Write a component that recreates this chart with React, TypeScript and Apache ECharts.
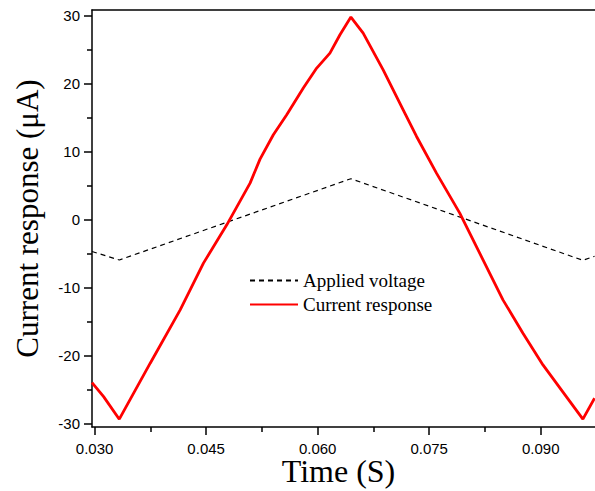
import React, { useEffect, useRef } from "react";
import * as echarts from "echarts";

const timeCurrent = [0.02965, 0.03121, 0.03332, 0.03748, 0.04151, 0.04464, 0.04778, 0.05091, 0.05225, 0.05404, 0.05584, 0.05807, 0.05987, 0.06165, 0.063, 0.06447, 0.06612, 0.06881, 0.0715, 0.0733, 0.07598, 0.07911, 0.08224, 0.08492, 0.08761, 0.0903, 0.09344, 0.09567, 0.09724];
const currentValues = [-23.97, -26.03, -29.35, -21.12, -13.28, -6.41, -0.78, 5.35, 8.88, 12.46, 15.4, 19.32, 22.26, 24.47, 27.16, 29.76, 27.41, 22.01, 16.13, 12.21, 6.82, 0.94, -5.93, -11.81, -16.71, -21.37, -26.03, -29.35, -26.26];

const timeVoltage = [0.02965, 0.03332, 0.06447, 0.09567, 0.09724];
const voltageValues = [-4.7, -5.95, 6.0, -6.0, -5.4];

const xMajorTicks = [0.03, 0.045, 0.06, 0.075, 0.09];
const xMinorTicks = [0.0375, 0.0525, 0.0675, 0.0825];
const yMajorTicks = [-30, -20, -10, 0, 10, 20, 30];
const yMinorTicks = [-25, -15, -5, 5, 15, 25];

const X_MIN = 0.02965;
const X_MAX = 0.0973;
const Y_MIN = -30.5;
const Y_MAX = 30.8;

export default function App() {
  const ref = useRef<HTMLDivElement>(null);
  useEffect(() => {
    if (!ref.current) return;
    const chart = echarts.init(ref.current, null, { renderer: "svg" });
    const axisLine = { show: true, onZero: false, lineStyle: { color: "#000", width: 1.5 } };
    const labelFont = { fontFamily: "Liberation Sans", fontSize: 15, lineHeight: 15, color: "#000" };
    chart.setOption({
      animation: false,
      backgroundColor: "#fff",
      grid: { left: 92, top: 10, right: 0, bottom: 64, show: false, containLabel: false, outerBoundsMode: "none" },
      legend: {
        orient: "vertical",
        left: 244,
        top: 266,
        itemWidth: 48,
        itemHeight: 14,
        itemGap: 5,
        itemStyle: { opacity: 0 },
        textStyle: { fontFamily: "Liberation Serif", fontSize: 19, color: "#000" },
        data: ["Applied voltage", "Current response"],
      },
      xAxis: [
        {
          type: "value",
          min: X_MIN,
          max: X_MAX,
          position: "bottom",
          axisLine,
          splitLine: { show: false },
          axisTick: { show: true, customValues: xMajorTicks, length: 8, lineStyle: { color: "#000", width: 1.5 } },
          axisLabel: {
            show: true,
            customValues: xMajorTicks,
            margin: 14,
            ...labelFont,
            formatter: (v: number) => v.toFixed(3),
          },
          name: "Time (S)",
          nameLocation: "middle",
          nameGap: 31,
          nameMoveOverlap: false,
          nameTextStyle: { fontFamily: "Liberation Serif", fontSize: 32, lineHeight: 26, color: "#000", padding: [0, 10, 0, 0] },
        },
        {
          type: "value",
          min: X_MIN,
          max: X_MAX,
          position: "bottom",
          axisLine: { show: false, onZero: false },
          splitLine: { show: false },
          axisTick: { show: true, customValues: xMinorTicks, length: 5, lineStyle: { color: "#000", width: 1.5 } },
          axisLabel: { show: false },
        },
        {
          type: "value",
          min: X_MIN,
          max: X_MAX,
          position: "top",
          axisLine,
          splitLine: { show: false },
          axisTick: { show: false },
          axisLabel: { show: false },
        },
      ],
      yAxis: [
        {
          type: "value",
          min: Y_MIN,
          max: Y_MAX,
          position: "left",
          axisLine,
          splitLine: { show: false },
          axisTick: { show: true, customValues: yMajorTicks, length: 8, lineStyle: { color: "#000", width: 1.5 } },
          axisLabel: { show: true, customValues: yMajorTicks, margin: 12, ...labelFont },
          name: "Current response (\u03bcA)",
          nameLocation: "middle",
          nameGap: 49,
          nameMoveOverlap: false,
          nameTextStyle: { fontFamily: "Liberation Serif", fontSize: 31, color: "#000" },
        },
        {
          type: "value",
          min: Y_MIN,
          max: Y_MAX,
          position: "left",
          axisLine: { show: false, onZero: false },
          splitLine: { show: false },
          axisTick: { show: true, customValues: yMinorTicks, length: 5, lineStyle: { color: "#000", width: 1.5 } },
          axisLabel: { show: false },
        },
      ],
      series: [
        {
          name: "Applied voltage",
          type: "line",
          xAxisIndex: 0,
          yAxisIndex: 0,
          data: timeVoltage.map((t, i) => [t, voltageValues[i]]),
          symbol: "none",
          color: "#000",
          lineStyle: { color: "#000", width: 1.2, type: [5, 4] },
          z: 3,
        },
        {
          name: "Current response",
          type: "line",
          xAxisIndex: 0,
          yAxisIndex: 0,
          data: timeCurrent.map((t, i) => [t, currentValues[i]]),
          symbol: "none",
          color: "#ff0000",
          lineStyle: { color: "#ff0000", width: 2.8 },
          z: 4,
        },
      ],
    });
    return () => chart.dispose();
  }, []);
  return (
    <div
      ref={ref}
      style={{ position: "fixed", left: 0, top: 0, width: 595, height: 491, background: "#fff" }}
    />
  );
}
